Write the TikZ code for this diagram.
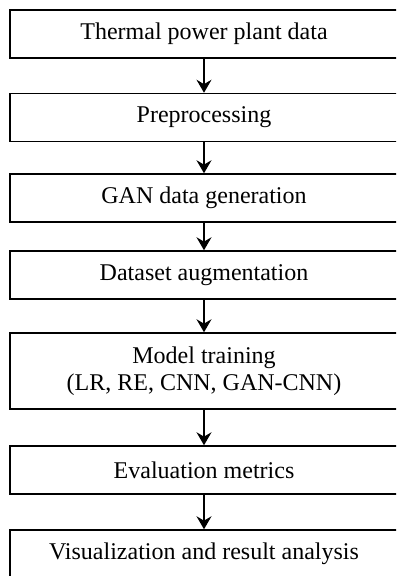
\documentclass[tikz,border=0pt]{standalone}
\usepackage{fontspec}
\setmainfont{Liberation Serif}
\usetikzlibrary{arrows.meta}

\tikzset{
	stepbox/.style={rectangle, draw=black, line width=0.75pt, fill=white,
		minimum width=194pt, minimum height=24pt, inner sep=0pt, align=center,
		font=\fontsize{12}{13.5}\selectfont},
	flow/.style={-{Stealth[length=6.5pt, width=7.5pt, inset=2.2pt]}, line width=0.55pt}
}

\begin{document}
\begin{tikzpicture}[x=0.5pt, y=-0.5pt]
	\clip (0,0) rectangle (396,576);

	\node[stepbox](data) at (204,34){Thermal power plant data};
	\node[stepbox](prep) at (204,117.5){Preprocessing};
	\node[stepbox](gan) at (204,198){GAN data generation};
	\node[stepbox](aug) at (204,275){Dataset augmentation};
	\node[stepbox, minimum height=38pt](train) at (204,371){Model training\\(LR, RE, CNN, GAN-CNN)};
	\node[stepbox](eval) at (204,470){Evaluation metrics};
	\node[stepbox](vis) at (204,554){Visualization and result analysis};

	\draw[flow] (data) -- (prep);
	\draw[flow] (prep) -- (gan);
	\draw[flow] (gan) -- (aug);
	\draw[flow] (aug) -- (train);
	\draw[flow] (train) -- (eval);
	\draw[flow] (eval) -- (vis);
\end{tikzpicture}
\end{document}
